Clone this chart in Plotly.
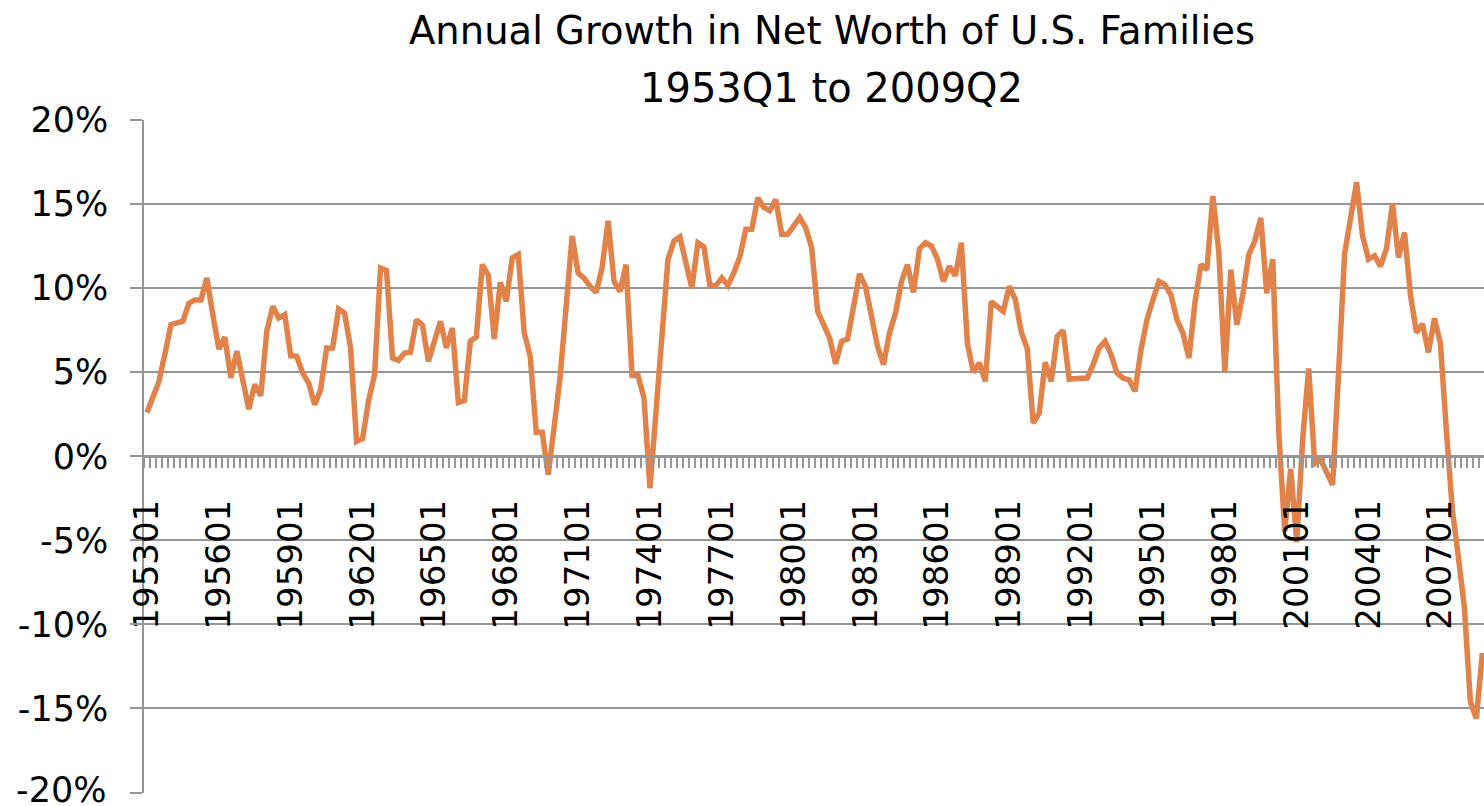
import plotly.graph_objects as go

# Annual growth (%) of U.S. family net worth, quarterly from 1953Q1 (visible part of the chart)
years = list(range(1953, 2010))
categories = [f"{y}0{q}" for y in years for q in range(1, 5)][:226]

growth = [
    2.6, 3.6, 4.45, 6.1, 7.83, 7.93, 8.03, 9.1, 9.3, 9.3,
    10.6, 8.4, 6.38, 7.09, 4.66, 6.25, 4.5, 2.8, 4.27, 3.6,
    7.43, 8.92, 8.22, 8.42, 5.98, 5.94, 4.95, 4.35, 3.07, 3.96,
    6.44, 6.44, 8.76, 8.52, 6.44, 0.88, 1.05, 3.3, 4.85, 11.2,
    11.06, 5.84, 5.7, 6.14, 6.18, 8.12, 7.8, 5.64, 6.84, 8.03,
    6.44, 7.63, 3.2, 3.32, 6.84, 7.09, 11.4, 10.74, 6.97, 10.35,
    9.21, 11.8, 12.0, 7.33, 5.94, 1.42, 1.42, -1.1, 1.75, 4.75,
    8.9, 13.1, 10.9, 10.6, 10.1, 9.75, 11.2, 14.0, 10.4, 9.8,
    11.4, 4.8, 4.8, 3.46, -1.9, 2.6, 6.94, 11.7, 12.8, 13.05,
    11.5, 10.0, 12.7, 12.45, 10.15, 10.15, 10.6, 10.15, 10.9, 11.86,
    13.5, 13.5, 15.37, 14.8, 14.6, 15.27, 13.2, 13.2, 13.7, 14.2,
    13.6, 12.4, 8.62, 7.83, 7.03, 5.5, 6.84, 6.97, 8.8, 10.85,
    10.07, 8.23, 6.54, 5.45, 7.33, 8.52, 10.4, 11.4, 9.75, 12.33,
    12.7, 12.5, 11.74, 10.4, 11.3, 10.74, 12.7, 6.74, 4.99, 5.55,
    4.45, 9.2, 8.92, 8.62, 10.1, 9.35, 7.4, 6.4, 1.97, 2.57,
    5.59, 4.45, 7.13, 7.49, 4.59, 4.59, 4.61, 4.65, 5.45, 6.44,
    6.84, 6.04, 4.95, 4.65, 4.55, 3.86, 6.34, 8.13, 9.32, 10.4,
    10.2, 9.6, 8.13, 7.33, 5.84, 9.12, 11.4, 11.1, 15.47, 12.1,
    5.05, 11.1, 7.83, 9.6, 12.0, 12.8, 14.17, 9.69, 11.72, 1.5,
    -4.47, -0.75, -5.11, 1.0, 5.22, -0.43, -0.21, -0.96, -1.7, 5.0,
    12.04, 14.17, 16.3, 13.1, 11.72, 11.93, 11.29, 12.36, 15.02, 11.82,
    13.31, 9.59, 7.35, 7.88, 6.18, 8.2, 6.71, 1.5, -3.2, -6.0,
    -9.0, -14.6, -15.6, -11.7,
]

tick_labels = ["195301", "195601", "195901", "196201", "196501", "196801", "197101",
               "197401", "197701", "198001", "198301", "198601", "198901", "199201",
               "199501", "199801", "200101", "200401", "200701"]
y_ticks = [-20, -15, -10, -5, 0, 5, 10, 15, 20]
y_labels = ["-20%", "-15%", "-10%", "-5%", "0%", "5%", "10%", "15%", "20%"]

title_line1 = "Annual Growth in Net Worth of U.S. Families"
title_line2 = "1953Q1 to 2009Q2"

FONT = "DejaVu Sans"
GRID = "#969696"

x_pos = list(range(len(growth)))
tick_pos = [categories.index(t) for t in tick_labels]

# the bottom-most tick label would be dropped by plotly at the page edge,
# so it is drawn as an annotation at the same place
axis_text = [t if v != y_ticks[0] else "" for v, t in zip(y_ticks, y_labels)]

fig = go.Figure()
fig.add_trace(go.Scatter(
    x=x_pos, y=growth, mode="lines",
    line=dict(color="#E0824A", width=5.5),
    text=categories[:len(growth)], hoverinfo="text+y",
))

fig.update_layout(
    width=1484, height=806,
    margin=dict(l=144, r=0, t=120, b=13, autoexpand=False),
    paper_bgcolor="white", plot_bgcolor="white",
    showlegend=False,
    font=dict(family=FONT, color="black"),
    xaxis=dict(
        range=[-0.5, 223.28], automargin=False,
        anchor="free", position=0.5,
        showline=True, linecolor=GRID, linewidth=1.5,
        showgrid=False, zeroline=False,
        tickmode="array", tickvals=tick_pos, ticktext=tick_labels,
        ticks="", tickangle=-90,
        tickfont=dict(family=FONT, size=34, color="black"),
        ticklabelstandoff=29,
        minor=dict(tickmode="linear", tick0=0.5, dtick=1, ticks="outside",
                   ticklen=11, tickwidth=1.5, tickcolor=GRID, showgrid=False),
    ),
    yaxis=dict(
        range=[-20.03, 20.0], automargin=False,
        showline=True, linecolor=GRID, linewidth=1.5,
        showgrid=True, gridcolor=GRID, gridwidth=1.5,
        zeroline=False,
        tickmode="array", tickvals=y_ticks, ticktext=axis_text,
        ticks="outside", ticklen=12, tickwidth=1.5, tickcolor=GRID,
        tickfont=dict(family=FONT, size=35, color="black"),
        ticklabelstandoff=15,
    ),
    annotations=[
        dict(text=title_line1, xref="paper", yref="paper", x=0.5134, y=1.133,
             xanchor="center", yanchor="middle", showarrow=False,
             font=dict(family=FONT, size=38.5, color="black")),
        dict(text=title_line2, xref="paper", yref="paper", x=0.5134, y=1.048,
             xanchor="center", yanchor="middle", showarrow=False,
             font=dict(family=FONT, size=40, color="black")),
        dict(text=y_labels[0], xref="paper", yref="y", x=0, y=y_ticks[0],
             xanchor="right", yanchor="middle", xshift=-36, yshift=3,
             showarrow=False, font=dict(family=FONT, size=35, color="black")),
    ],
)

fig.write_html(
    "out.html",
    config={"displayModeBar": False},
    post_script="document.body.style.margin='0';document.body.style.overflow='hidden';",
)
